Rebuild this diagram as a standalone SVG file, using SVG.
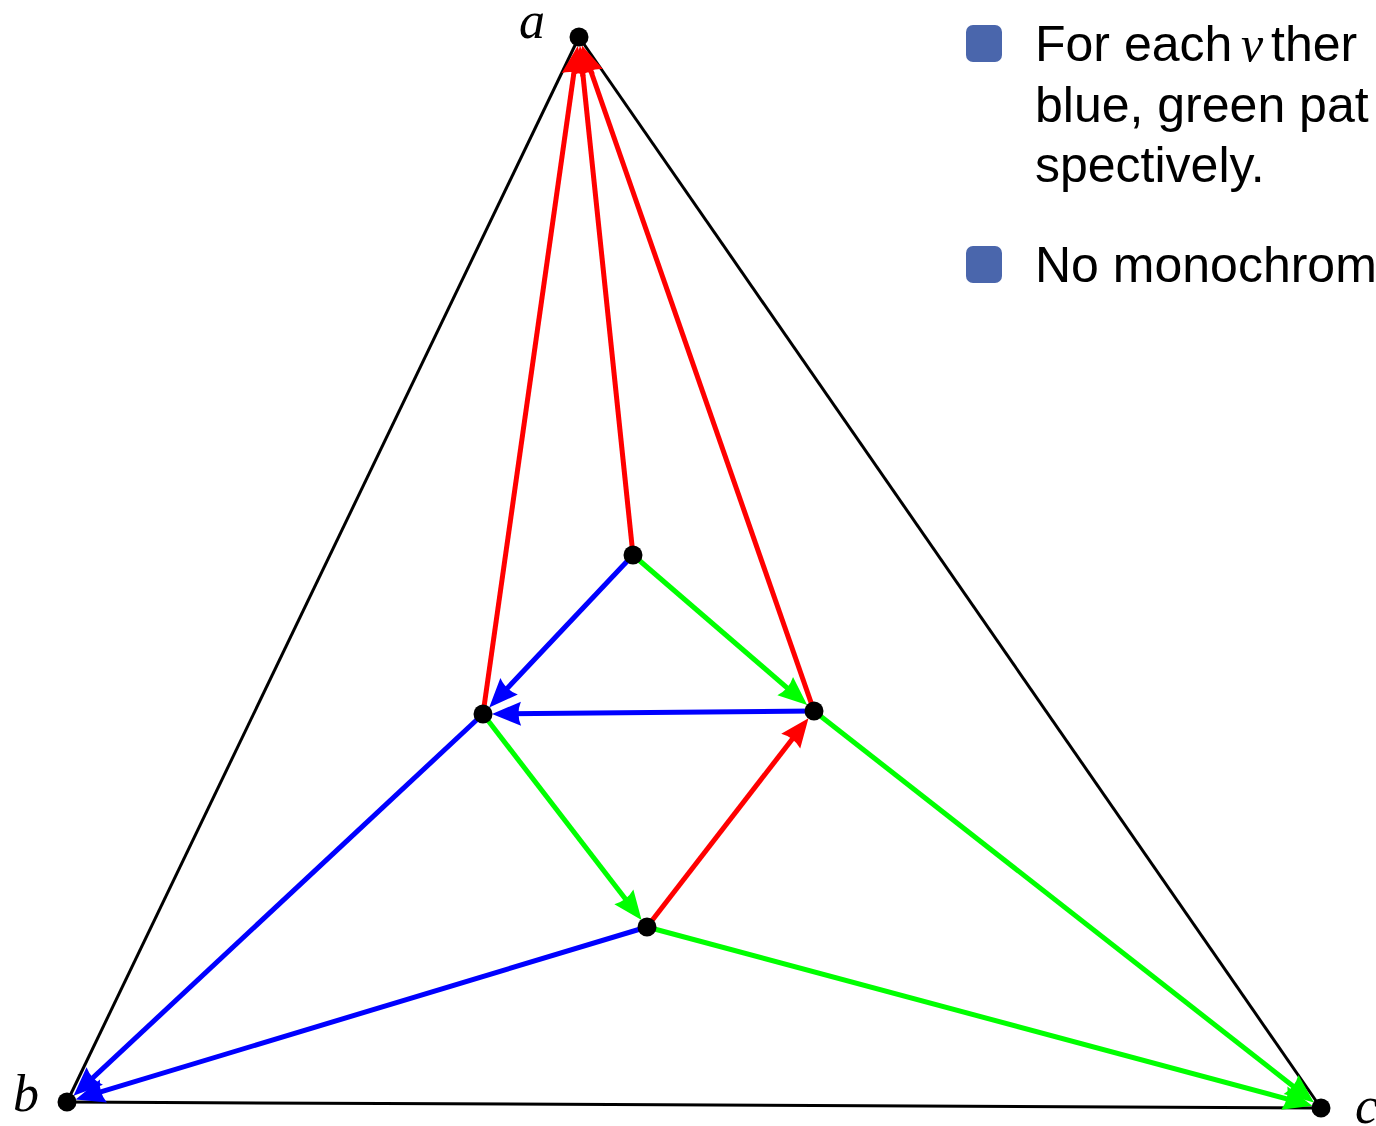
<svg xmlns="http://www.w3.org/2000/svg" width="1376" height="1126" viewBox="0 0 1376 1126">
<style>
.edge{stroke:#000;stroke-width:3;fill:none}
.r{stroke:#ff0000;stroke-width:5;fill:none;marker-end:url(#ar)}
.g{stroke:#00ff00;stroke-width:5;fill:none;marker-end:url(#ag)}
.b{stroke:#0000ff;stroke-width:5;fill:none;marker-end:url(#ab)}
.dot{fill:#000}
.lbl{font-family:"Liberation Serif",serif;font-style:italic;font-size:52px;fill:#000}
.txt{font-family:"Liberation Sans",Arial,sans-serif;font-size:50px;fill:#000}
.math{font-family:"Liberation Serif",serif;font-style:italic}
.bul{fill:#4a66ac}
</style>
<defs>
<marker id="ar" viewBox="-20 -15 40 30" refX="0" refY="0" markerWidth="40" markerHeight="30" markerUnits="userSpaceOnUse" orient="auto"><path d="M15,0 L-14,-12 Q-9,0 -14,12 Z" fill="#ff0000"/></marker>
<marker id="ag" viewBox="-20 -15 40 30" refX="0" refY="0" markerWidth="40" markerHeight="30" markerUnits="userSpaceOnUse" orient="auto"><path d="M15,0 L-14,-12 Q-9,0 -14,12 Z" fill="#00ff00"/></marker>
<marker id="ab" viewBox="-20 -15 40 30" refX="0" refY="0" markerWidth="40" markerHeight="30" markerUnits="userSpaceOnUse" orient="auto"><path d="M15,0 L-14,-12 Q-9,0 -14,12 Z" fill="#0000ff"/></marker>
</defs>
<rect width="1376" height="1126" fill="#fff"/>
<g id="connectors">
<line class="edge" x1="579" y1="37" x2="67" y2="1102"/>
<line class="edge" x1="579" y1="37" x2="1321" y2="1108"/>
<line class="edge" x1="67" y1="1102" x2="1321" y2="1108"/>
<line class="r" x1="483" y1="714" x2="575.6" y2="60.8"/>
<line class="r" x1="633" y1="555" x2="581.5" y2="60.9"/>
<line class="r" x1="814" y1="711" x2="586.9" y2="59.7"/>
<line class="g" x1="633" y1="555" x2="795.8" y2="695.3"/>
<line class="b" x1="633" y1="555" x2="499.5" y2="696.5"/>
<line class="b" x1="814" y1="711" x2="507" y2="713.8"/>
<line class="g" x1="483" y1="714" x2="632.4" y2="908"/>
<line class="r" x1="647" y1="927" x2="799.3" y2="730"/>
<line class="b" x1="483" y1="714" x2="84.5" y2="1085.6"/>
<line class="b" x1="647" y1="927" x2="90" y2="1095.1"/>
<line class="g" x1="814" y1="711" x2="1302.1" y2="1093.2"/>
<line class="g" x1="647" y1="927" x2="1297.8" y2="1101.8"/>
</g>
<g id="node-a"><circle class="dot" cx="579" cy="37" r="9.5"/><text class="lbl" x="519" y="38">a</text></g>
<g id="node-b"><circle class="dot" cx="67" cy="1102" r="9.5"/><text class="lbl" x="13" y="1111">b</text></g>
<g id="node-c"><circle class="dot" cx="1321" cy="1108" r="9.5"/><text class="lbl" x="1355" y="1123">c</text></g>
<g id="node-t"><circle class="dot" cx="633" cy="555" r="9.5"/></g>
<g id="node-l"><circle class="dot" cx="483" cy="714" r="9.5"/></g>
<g id="node-r"><circle class="dot" cx="814" cy="711" r="9.5"/></g>
<g id="node-m"><circle class="dot" cx="647" cy="927" r="9.5"/></g>
<g id="legend">
<rect class="bul" x="966" y="25" width="36" height="37" rx="7"/>
<text class="txt" x="1035" y="61">For each<tspan class="math" x="1241">v</tspan><tspan x="1271">ther</tspan></text>
<text class="txt" x="1035" y="122">blue, green pat</text>
<text class="txt" x="1035" y="182">spectively.</text>
<rect class="bul" x="966" y="246" width="36" height="37" rx="7"/>
<text class="txt" x="1035" y="282">No monochrom</text>
</g>
</svg>
